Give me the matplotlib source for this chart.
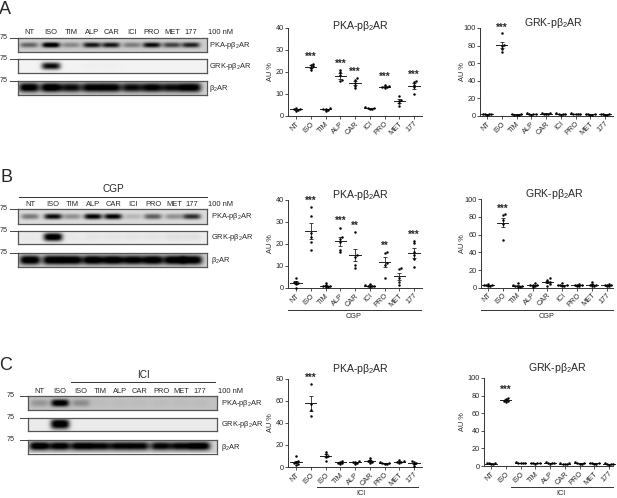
import numpy as np
import matplotlib
matplotlib.use('Agg')
import matplotlib.pyplot as plt

plt.rcParams['font.family'] = ['Liberation Sans', 'DejaVu Sans']
plt.rcParams['mathtext.default'] = 'regular'

W, H = 617, 498
TEXT = '#262626'
PKA = 'PKA-pβ$_2$AR'
GRK = 'GRK-pβ$_2$AR'
B2 = 'β$_2$AR'

labels_ab = ['NT', 'ISO', 'TIM', 'ALP', 'CAR', 'ICI', 'PRO', 'MET', '177']
labels_c = ['NT', 'ISO', 'ISO', 'TIM', 'ALP', 'CAR', 'PRO', 'MET', '177']

# scatter values, one list per treatment
a_pka = [[2.4, 2.8, 3.0, 3.2, 3.6], [21.0, 22.0, 22.6, 23.3, 23.5], [2.2, 2.8, 3.0, 3.3, 3.6],
         [16.0, 16.2, 18.5, 20.0, 21.0], [12.7, 13.8, 15.0, 16.5, 17.3], [3.2, 3.4, 3.6, 3.8, 4.0],
         [12.8, 13.1, 13.3, 13.5, 13.9], [4.7, 6.0, 7.0, 7.4, 9.0], [10.0, 13.0, 14.0, 15.3, 15.8]]
a_pka_sem = [0.25, 0.5, 0.3, 1.4, 0.9, 0.2, 0.2, 0.8, 1.3]
a_grk = [[1.5, 1.8, 2.0, 2.2, 2.5], [73.0, 76.0, 80.0, 81.0, 94.0], [1.2, 1.5, 1.7, 2.0, 2.2],
         [1.6, 2.0, 2.4, 2.6, 3.0], [2.0, 2.4, 2.8, 3.0, 3.4], [1.6, 2.0, 2.3, 2.6, 3.0],
         [1.8, 2.2, 2.5, 2.8, 3.4], [1.4, 1.7, 2.0, 2.2, 2.5], [1.4, 1.7, 2.0, 2.2, 2.5]]
a_grk_sem = [0.3, 3.8, 0.3, 0.3, 0.3, 0.3, 0.3, 0.3, 0.3]

b_pka = [[0.2, 1.8, 2.2, 2.5, 2.9, 4.5], [17.0, 21.0, 23.0, 24.8, 32.7, 36.5], [0.3, 0.6, 0.8, 1.0, 1.3, 2.3],
         [16.2, 17.3, 20.8, 22.3, 23.0, 27.4], [9.2, 10.5, 14.2, 15.0, 25.3], [0.5, 0.7, 0.9, 1.1, 1.3, 1.6],
         [4.7, 10.5, 11.2, 15.8, 16.2], [1.4, 2.9, 4.4, 8.6, 9.0], [9.5, 13.2, 15.0, 16.2, 20.2, 21.4]]
b_pka_sem = [0.6, 3.7, 0.3, 2.1, 2.8, 0.2, 2.2, 1.5, 2.3]
b_grk = [[1.5, 2.2, 2.6, 3.0, 3.4, 4.5], [54.0, 72.0, 77.0, 82.0, 83.3], [0.6, 1.2, 1.6, 2.0, 2.6, 5.0],
         [1.2, 2.0, 2.5, 3.0, 3.5, 5.5], [2.0, 4.0, 6.0, 7.0, 9.0, 11.0], [1.5, 2.0, 2.6, 3.0, 3.6, 5.0],
         [1.4, 2.0, 2.5, 3.0, 3.6, 4.5], [1.6, 2.2, 2.8, 3.2, 3.8, 6.0], [1.4, 2.0, 2.5, 3.0, 3.6, 4.6]]
b_grk_sem = [0.5, 5.0, 0.6, 0.6, 1.5, 0.5, 0.5, 0.6, 0.5]

c_pka = [[2.0, 3.0, 3.5, 4.5, 5.0, 10.0], [46.6, 52.0, 57.0, 75.0], [5.8, 9.4, 10.0, 11.8, 13.9],
         [2.8, 3.5, 4.0, 4.8, 5.7], [2.8, 3.6, 4.2, 4.8, 5.2], [3.5, 4.5, 5.0, 6.0, 8.5],
         [2.6, 3.0, 3.4, 3.8, 4.2], [3.5, 4.2, 4.8, 5.2, 6.0], [0.5, 2.5, 3.5, 4.5, 5.0]]
c_pka_sem = [1.2, 6.5, 1.5, 0.5, 0.4, 0.8, 0.3, 0.4, 0.8]
c_grk = [[2.2, 2.6, 2.9, 3.1, 3.4], [72.7, 73.5, 74.2, 76.0, 77.6], [3.0, 3.4, 3.6, 3.8, 4.1],
         [2.6, 2.9, 3.2, 3.5, 3.8], [2.6, 3.0, 3.3, 3.6, 4.0], [2.2, 2.5, 2.7, 2.9, 3.1],
         [2.2, 2.7, 3.2, 3.6, 4.0], [2.0, 2.5, 3.0, 3.4, 3.8], [1.0, 1.8, 2.2, 2.6, 3.0]]
c_grk_sem = [0.2, 1.0, 0.2, 0.2, 0.2, 0.15, 0.3, 0.3, 0.3]

# significance marks: (category, label, height)
a_pka_stars = [(1, '***', 27.7), (3, '***', 24.8), (4, '***', 21.0), (6, '***', 18.6), (8, '***', 19.5)]
a_grk_stars = [(1, '***', 102.6)]
b_pka_stars = [(1, '***', 40.4), (3, '***', 31.4), (4, '**', 29.0), (6, '**', 20.0), (8, '***', 25.0)]
b_grk_stars = [(1, '***', 92.0)]
c_pka_stars = [(1, '***', 82.7)]
c_grk_stars = [(1, '***', 89.0)]

# band strength per lane in the blots
a_blot = [[0.45, 1.0, 0.3, 0.8, 0.8, 0.35, 0.85, 0.6, 0.75],
          [0.0, 0.85, 0.0, 0.01, 0.01, 0.0, 0.0, 0.0, 0.0],
          [0.95, 1.0, 0.85, 0.92, 0.92, 0.85, 0.92, 0.85, 0.95]]
b_blot = [[0.4, 0.85, 0.3, 0.9, 0.9, 0.15, 0.5, 0.3, 0.7],
          [0.02, 1.0, 0.02, 0.03, 0.03, 0.03, 0.03, 0.05, 0.05],
          [1.0, 1.0, 1.0, 1.0, 1.0, 0.95, 1.0, 1.0, 1.0]]
c_blot = [[0.2, 1.0, 0.25, 0.03, 0.03, 0.03, 0.03, 0.03, 0.03],
          [0.0, 1.0, 0.0, 0.0, 0.0, 0.0, 0.0, 0.0, 0.0],
          [1.0, 0.95, 0.95, 0.9, 0.9, 0.9, 0.9, 0.9, 1.0]]

fig = plt.figure(figsize=(W / 100, H / 100), dpi=100)


def px_axes(x0, y0, x1, y1):
    # pixel box, y measured from the top
    return fig.add_axes([x0 / W, 1 - y1 / H, (x1 - x0) / W, (y1 - y0) / H])


def label(x, y, s, size=5.2, ha='center', **kw):
    fig.text(x / W, 1 - y / H, s, fontsize=size, ha=ha, va='center', color=TEXT, **kw)


def hline(x0, x1, y, color='#333333', lw=0.7):
    fig.add_artist(plt.Line2D([x0 / W, x1 / W], [1 - y / H, 1 - y / H], color=color, lw=lw))


def swarm(vals, step):
    # spread close points sideways
    vals = sorted(vals)
    off = []
    for i, v in enumerate(vals):
        near = [o for o, u in zip(off, vals) if abs(u - v) < step]
        c = 0.0
        k = 1
        while c in near:
            c = 0.15 * ((k + 1) // 2) * (1 if k % 2 else -1)
            k += 1
        off.append(c)
    return np.array(off), np.array(vals)


def scatter_panel(box, first, dx, ymax, yticks, labels, vals, sems, stars, title, title_x, title_y, ylab_x):
    x0, y_top, x1, y_zero = box
    ax = px_axes(x0, y_top, x1, y_zero)
    ax.patch.set_alpha(0)
    ax.set_xlim((x0 - first) / dx, (x1 - first) / dx)
    ax.set_ylim(0, ymax)
    for i, v in enumerate(vals):
        off, ys = swarm(v, ymax * 0.022)
        ax.scatter(i + off, ys, s=3.2, color='black', linewidths=0, zorder=3, clip_on=False)
        m = np.mean(v)
        ax.plot([i - 0.38, i + 0.38], [m, m], color='#222222', lw=0.7, zorder=2, clip_on=False)
        ax.errorbar(i, m, yerr=sems[i], color='#222222', lw=0.6, capsize=1.6, capthick=0.6, zorder=2, clip_on=False)
    for i, s, y in stars:
        # asterisks sit high in their box, pull them down a little
        ax.annotate(s, (i, y), xytext=(0, -1.6), textcoords='offset points', fontsize=7, ha='center',
                    va='center', color=TEXT, fontweight='bold', annotation_clip=False)
    for side in ['top', 'right']:
        ax.spines[side].set_visible(False)
    for side in ['left', 'bottom']:
        ax.spines[side].set_linewidth(0.7)
        ax.spines[side].set_color('#333333')
    ax.set_yticks(yticks)
    ax.set_xticks(range(len(labels)))
    ax.set_xticklabels(labels, rotation=45, ha='right', rotation_mode='anchor')
    ax.tick_params(axis='both', labelsize=5.3, length=2, width=0.6, pad=1, colors=TEXT, color='#333333')
    label(title_x, title_y, title, size=7.6)
    label(ylab_x, (y_top + y_zero) / 2, 'AU %', size=5.3, rotation=90)
    return ax


def blot(box, strengths, centers, bg, half_h, halfw):
    x0, y0, x1, y1 = box
    nx, ny = int((x1 - x0) * 3), int((y1 - y0) * 3)
    xs = np.linspace(x0, x1, nx)[None, :]
    ys = np.linspace(-1, 1, ny)[:, None] * (y1 - y0) / 2
    img = np.full((ny, nx), bg, dtype=float)
    for c, s in zip(centers, strengths):
        lane = np.exp(-np.abs((xs - c) / halfw) ** 4)
        band = np.exp(-np.abs(ys / half_h) ** 2.4)
        img -= s * bg * 1.15 * lane * band
    ax = px_axes(x0, y0, x1, y1)
    ax.imshow(np.clip(img, 0, 1), cmap='gray', vmin=0, vmax=1, aspect='auto', interpolation='bilinear')
    ax.set_xticks([])
    ax.set_yticks([])
    for sp in ax.spines.values():
        sp.set_color('#555555')
        sp.set_linewidth(0.9)


def blot_panel(rows, x0, x1, lanes, names, strengths, label_x, top_y, nm_x, bgs, halfs):
    widths = [9.0, 9.5, 10.5]
    for i, (y0, y1) in enumerate(rows):
        blot((x0, y0, x1, y1), strengths[i], lanes, bgs[i], halfs[i], widths[i])
        hline(x0 - 8, x0, y0, color='#444444')
        label(x0 - 17 if x0 > 20 else 4, y0 - 0.5, '75', size=5.2)
        label(label_x, (y0 + y1) / 2 + (0.5 if i else 0), [PKA, GRK, B2][i], size=5.4, ha='left')
    for c, s in zip(lanes, names):
        label(c, top_y, s, size=5.4)
    label(nm_x, top_y, '100 nM', size=5.4)


# panel A
label(5, 9, 'A', size=13)
blot_panel([(38.3, 52), (59.3, 73), (81, 95)], 18, 207,
           [29, 51, 71, 92, 111, 132, 152, 172, 191], labels_ab, a_blot, 209, 33, 221,
           [0.8, 0.95, 0.82], [2.6, 3.6, 4.6])
scatter_panel((288, 28, 421.7, 116), 296, 14.75, 40, [0, 10, 20, 30, 40], labels_ab, a_pka,
              a_pka_sem, a_pka_stars, PKA, 361, 26, 270)
scatter_panel((480, 28, 612.7, 116), 487, 14.75, 100, [0, 20, 40, 60, 80, 100], labels_ab, a_grk,
              a_grk_sem, a_grk_stars, GRK, 553, 23, 462)

# panel B
label(6, 178, 'B', size=13)
blot_panel([(209, 223.7), (230.7, 244), (253, 267)], 18, 207,
           [30, 53, 72, 93, 113, 133, 153, 174, 192], labels_ab, b_blot, 211, 204, 221,
           [0.86, 0.93, 0.82], [2.8, 4.0, 4.8])
hline(19, 207, 196.7)
label(113, 188.7, 'CGP', size=7.2)
scatter_panel((288, 199.7, 421.7, 288), 296, 14.75, 40, [0, 10, 20, 30, 40], labels_ab, b_pka,
              b_pka_sem, b_pka_stars, PKA, 361, 195, 271)
scatter_panel((481, 199.3, 613, 287.7), 488, 14.85, 100, [0, 20, 40, 60, 80, 100], labels_ab, b_grk,
              b_grk_sem, b_grk_stars, GRK, 554, 194, 462)
hline(288, 421, 309.7)
label(354, 316, 'CGP', size=5.3)
hline(481, 613, 309.7)
label(547, 316, 'CGP', size=5.3)

# panel C
label(6, 365, 'C', size=13)
blot_panel([(396.3, 410), (417.7, 431), (439.7, 453.5)], 28, 217,
           [39.5, 60, 81, 100, 120, 139, 161, 181, 200], labels_c, c_blot, 221, 391, 231,
           [0.76, 0.92, 0.82], [3.6, 5.0, 4.4])
hline(71, 215, 382)
label(143, 375, 'ICI', size=7.2)
scatter_panel((288, 378.7, 421.7, 467), 296, 14.75, 80, [0, 20, 40, 60, 80], labels_c, c_pka,
              c_pka_sem, c_pka_stars, PKA, 361, 369, 270)
scatter_panel((484, 378, 613, 466), 491, 14.75, 100, [0, 20, 40, 60, 80, 100], labels_c, c_grk,
              c_grk_sem, c_grk_stars, GRK, 557, 368, 462)
hline(317, 417.7, 486.7)
label(361, 493, 'ICI', size=5.3)
hline(510.7, 613, 486.7)
label(561, 493, 'ICI', size=5.3)

fig.savefig('out.png', dpi=100)
